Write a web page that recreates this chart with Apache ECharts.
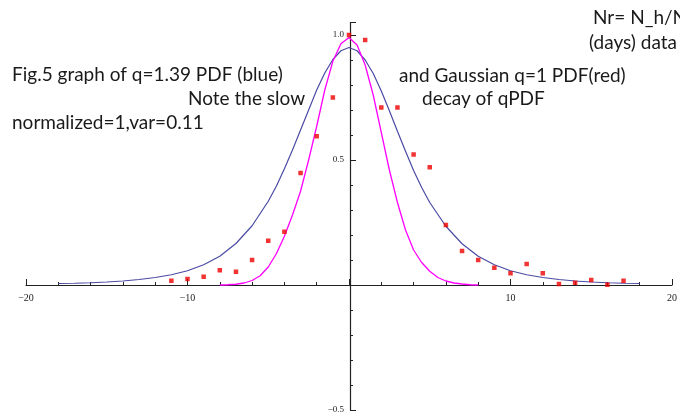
<!DOCTYPE html>
<html>
<head>
<meta charset="utf-8">
<script src="https://cdn.jsdelivr.net/npm/echarts@6/dist/echarts.min.js"></script>
<style>
  html, body { margin: 0; padding: 0; background: #fff; }
  #chart { width: 680px; height: 420px; }
</style>
</head>
<body>
<div id="chart"></div>
<script>
// q = 1.39 q-Gaussian (blue)
const blueX = [-18, -17, -16, -15, -14, -13, -12, -11, -10, -9, -8, -7, -6, -5, -4.5, -4, -3.5, -3, -2.5, -2, -1.5, -1, -0.5,
  0, 0.5, 1, 1.5, 2, 2.5, 3, 3.5, 4, 4.5, 5, 6, 7, 8, 9, 10, 11, 12, 13, 14, 15, 16, 17, 18]
const blueY = [0.006, 0.007, 0.009, 0.012, 0.016, 0.022, 0.030, 0.041, 0.057, 0.081, 0.115, 0.166, 0.237, 0.335, 0.395, 0.465, 0.54, 0.62, 0.70, 0.78, 0.848, 0.902, 0.937,
  0.95, 0.937, 0.90, 0.846, 0.776, 0.697, 0.615, 0.535, 0.458, 0.39, 0.33, 0.235, 0.165, 0.115, 0.081, 0.057, 0.041, 0.030, 0.022, 0.016, 0.012, 0.009, 0.007, 0.006]

// q = 1 Gaussian (magenta)
const magX = [-8, -7.5, -7, -6.5, -6, -5.5, -5, -4.5, -4, -3.5, -3, -2.5, -2, -1.5, -1, -0.5,
  0, 0.5, 1, 1.5, 2, 2.5, 3, 3.5, 4, 4.5, 5, 5.5, 6, 6.5, 7, 7.5, 8]
const magY = [0, 0.001, 0.003, 0.008, 0.018, 0.037, 0.072, 0.125, 0.195, 0.28, 0.375, 0.50, 0.635, 0.78, 0.895, 0.965,
  0.99, 0.96, 0.88, 0.76, 0.61, 0.46, 0.33, 0.22, 0.14, 0.09, 0.055, 0.03, 0.016, 0.008, 0.004, 0.001, 0]

// Nr data (red points)
const dataX = [-11, -10, -9, -8, -7, -6, -5, -4, -3, -2, -1, 0, 1, 2, 3, 4, 5, 6, 7, 8, 9, 10, 11, 12, 13, 14, 15, 16, 17]
const dataY = [0.017, 0.024, 0.033, 0.059, 0.053, 0.10, 0.177, 0.213, 0.448, 0.595, 0.75, 1.0, 0.98, 0.71, 0.71, 0.522, 0.471,
  0.24, 0.136, 0.10, 0.069, 0.047, 0.084, 0.047, 0.004, 0.009, 0.02, 0.001, 0.017]

const yLabels = { '-0.5': '\u22120.5', '0.5': '0.5', '1': '1.0' }
const xLabels = { '-20': '\u221220', '-10': '\u221210', '10': '10', '20': '20' }

// annotation texts: [text, left, baseline]
const notes = [
  ['Fig.5 graph of q=1.39 PDF (blue)', 12, 80],
  ['Note the slow', 188, 104],
  ['normalized=1,var=0.11', 12, 128],
  ['and Gaussian q=1 PDF(red)', 399, 81],
  ['decay of qPDF', 422, 104],
  ['Nr= N_h/N', 593, 23],
  ['(days) data', 589, 48]
]

const pairs = (xs, ys) => xs.map((x, i) => [x, ys[i]])

const W = 680, H = 420
const grid = { left: 26, right: 6, top: 22.5, bottom: 10 }
const xMin = -20, xMax = 20, yMin = -0.5, yMax = 1.05
// axes cross at the origin, like Mathematica's Axes -> True
const yAxisOffset = -(0 - xMin) / (xMax - xMin) * (W - grid.left - grid.right)
const xAxisOffset = -(0 - yMin) / (yMax - yMin) * (H - grid.top - grid.bottom)

const chart = echarts.init(document.getElementById('chart'), null, { renderer: 'canvas' })

const axisCommon = {
  type: 'value',
  splitLine: { show: false },
  axisLine: { onZero: false, lineStyle: { color: '#222', width: 1.2 } },
  axisTick: { inside: true, length: 6, lineStyle: { color: '#222' } },
  minorTick: { show: true, splitNumber: 5, length: 3, lineStyle: { color: '#222' } },
}

chart.setOption({
  animation: false,
  grid: grid,
  xAxis: {
    ...axisCommon,
    min: xMin, max: xMax, interval: 10, offset: xAxisOffset,
    axisLabel: {
      margin: 8,
      fontFamily: 'Liberation Serif', fontSize: 10, color: '#222',
      formatter: v => xLabels[String(v)] || ''
    }
  },
  yAxis: {
    ...axisCommon,
    min: yMin, max: yMax, interval: 0.5, offset: yAxisOffset,
    axisLabel: {
      margin: 6, showMaxLabel: false,
      fontFamily: 'Liberation Serif', fontSize: 9, color: '#222',
      formatter: v => yLabels[String(Math.round(v * 100) / 100)] || ''
    }
  },
  series: [
    {
      type: 'line', data: pairs(blueX, blueY), showSymbol: false,
      lineStyle: { color: '#4b4ba3', width: 1.2 }
    },
    {
      type: 'line', data: pairs(magX, magY), showSymbol: false,
      lineStyle: { color: '#ff00ff', width: 1.3 }
    },
    {
      type: 'scatter', data: pairs(dataX, dataY),
      symbol: 'rect', symbolSize: 4.5, z: 5,
      itemStyle: { color: '#ee0000' }
    }
  ],
  graphic: notes.map(([t, x, y]) => ({
    type: 'text', x: x, y: y + 4,
    style: {
      text: t, fontFamily: 'Lato', fontSize: 19, fill: '#1a1a1a',
      verticalAlign: 'bottom'
    }
  }))
})
</script>
</body>
</html>
